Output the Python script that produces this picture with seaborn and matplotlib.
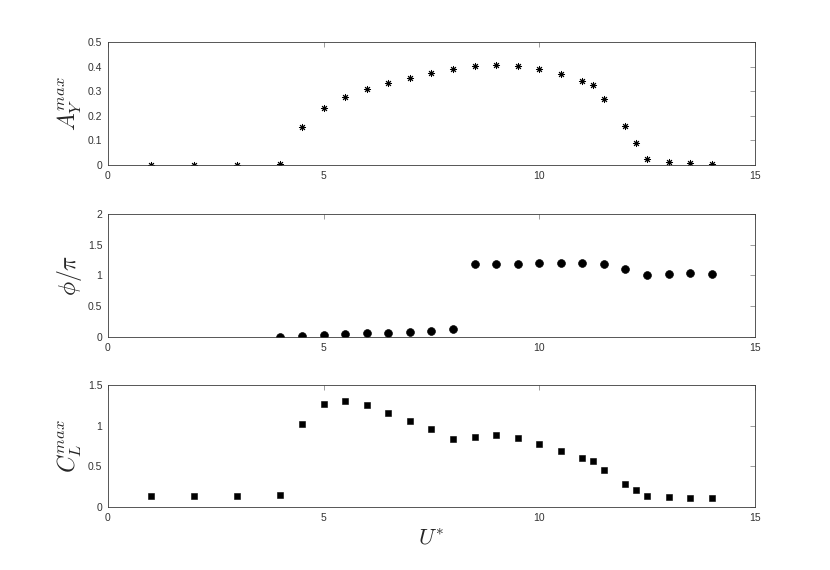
import numpy as np
import pandas as pd
import matplotlib
matplotlib.use("Agg")
import matplotlib.pyplot as plt
import seaborn as sns

# reduced velocity for each run
u_amp = [1, 2, 3, 4, 4.5, 5, 5.5, 6, 6.5, 7, 7.5, 8, 8.5, 9, 9.5, 10,
         10.5, 11, 11.25, 11.5, 12, 12.25, 12.5, 13, 13.5, 14]
a_max = [0.0, 0.0, 0.0, 0.003, 0.155, 0.232, 0.277, 0.308, 0.332, 0.354,
         0.373, 0.390, 0.404, 0.408, 0.404, 0.390, 0.370, 0.342, 0.326,
         0.270, 0.158, 0.088, 0.024, 0.012, 0.009, 0.004]

u_phase = [4, 4.5, 5, 5.5, 6, 6.5, 7, 7.5, 8, 8.5, 9, 9.5, 10, 10.5, 11,
           11.5, 12, 12.5, 13, 13.5, 14]
phase = [0.005, 0.02, 0.04, 0.05, 0.06, 0.07, 0.087, 0.10, 0.13, 1.18,
         1.18, 1.19, 1.20, 1.205, 1.205, 1.18, 1.105, 1.015, 1.02, 1.04, 1.025]

u_lift = u_amp
cl_max = [0.139, 0.139, 0.139, 0.15, 1.016, 1.27, 1.30, 1.25, 1.155, 1.057,
          0.955, 0.837, 0.865, 0.886, 0.845, 0.771, 0.69, 0.608, 0.571,
          0.457, 0.286, 0.204, 0.131, 0.118, 0.114, 0.11]

sns.set_style("white")
plt.rcParams['font.family'] = ['Liberation Sans', 'DejaVu Sans']
plt.rcParams['mathtext.fontset'] = 'cm'

fig = plt.figure(figsize=(8.3, 5.7), dpi=100)
ax1 = fig.add_axes([0.130, 0.7105, 0.7795, 0.2158])
ax2 = fig.add_axes([0.130, 0.4088, 0.7795, 0.2158])
ax3 = fig.add_axes([0.130, 0.1105, 0.7795, 0.2140])

d1 = pd.DataFrame({"u": u_amp, "v": a_max})
d2 = pd.DataFrame({"u": u_phase, "v": phase})
d3 = pd.DataFrame({"u": u_lift, "v": cl_max})

sns.scatterplot(data=d1, x="u", y="v", ax=ax1, marker=(8, 2, 0), s=20,
                color="black", linewidth=0.7)
sns.scatterplot(data=d2, x="u", y="v", ax=ax2, marker="o", s=32,
                color="black", edgecolor="black")
sns.scatterplot(data=d3, x="u", y="v", ax=ax3, marker="s", s=24,
                color="black", edgecolor="black")

ax1.set_ylim(0, 0.5)
ax1.set_yticks(np.arange(0, 0.51, 0.1))
ax1.set_yticklabels(["0", "0.1", "0.2", "0.3", "0.4", "0.5"])
ax2.set_ylim(0, 2)
ax2.set_yticks([0, 0.5, 1, 1.5, 2])
ax2.set_yticklabels(["0", "0.5", "1", "1.5", "2"])
ax3.set_ylim(0, 1.5)
ax3.set_yticks([0, 0.5, 1, 1.5])
ax3.set_yticklabels(["0", "0.5", "1", "1.5"])

labels = [r"$A_Y^{max}$", r"$\phi/\pi$", r"$C_L^{max}$"]
for ax, lab in zip([ax1, ax2, ax3], labels):
    ax.set_xlim(0, 15)
    ax.set_xticks([0, 5, 10, 15])
    ax.set_xticklabels(["0", "5", "10", "15"])
    ax.tick_params(direction="in", length=3.5, width=0.6, labelsize=7.5,
                   top=True, right=True, color="#8c8c8c",
                   labelcolor="#333333", pad=4)
    for sp in ax.spines.values():
        sp.set_color("#3a3a3a")
        sp.set_linewidth(0.6)
    ax.set_ylabel(lab, fontsize=17, labelpad=3)
    ax.set_xlabel("")

ax3.set_xlabel(r"$U^{*}$", fontsize=16, labelpad=4)

fig.savefig("out.png", dpi=100, facecolor="white")
